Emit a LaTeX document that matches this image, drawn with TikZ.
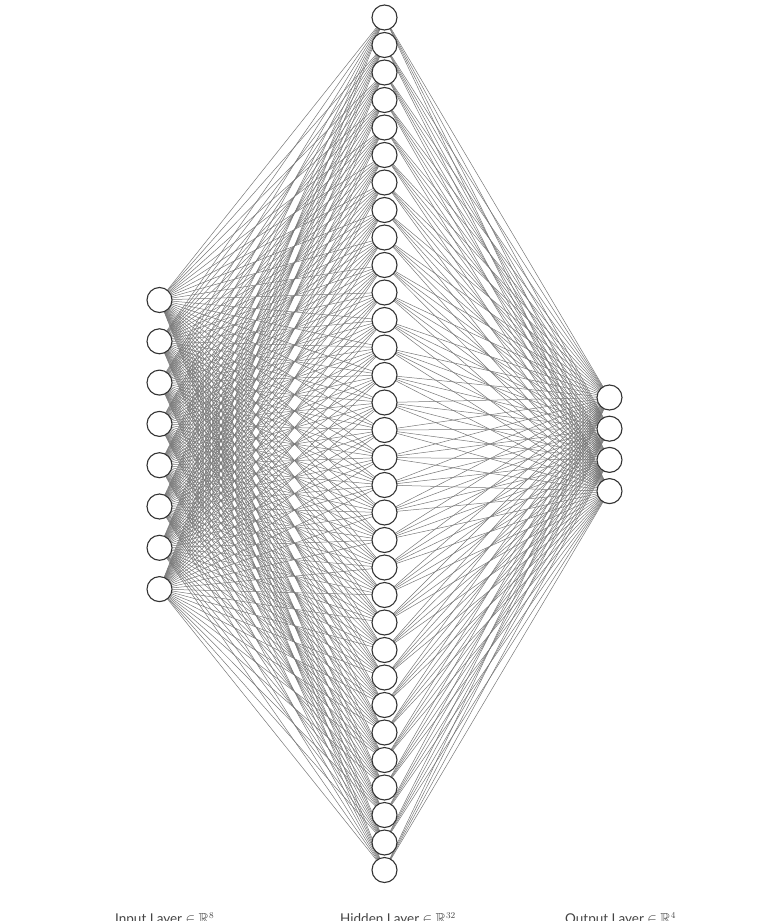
\documentclass[tikz,border=0pt]{standalone}
\usepackage{amssymb}
\usepackage{fontspec}
\setmainfont{Lato}
\usetikzlibrary{backgrounds}
\definecolor{edgegray}{HTML}{777777}
\definecolor{ringgray}{HTML}{333333}
\definecolor{textgray}{HTML}{444444}
\tikzset{
  neuron/.style={circle, draw=ringgray, fill=white, line width=1.1pt, minimum size=25pt, inner sep=0pt},
  edge/.style={draw=edgegray, line width=0.5pt},
  layerlabel/.style={anchor=base west, inner sep=0pt, text=textgray, font=\fontsize{13.5}{15}\selectfont}
}
\begin{document}
\begin{tikzpicture}[x=1pt,y=-1pt]
\useasboundingbox (0,0) rectangle (767,921);
\clip (0,0) rectangle (767,921);
\foreach \i in {1,...,8} \node[neuron] (I\i) at (159.5,{300+(\i-1)*41.3}) {};
\foreach \j in {1,...,32} \node[neuron] (H\j) at (384.5,{17.5+(\j-1)*27.5}) {};
\foreach \k in {1,...,4} \node[neuron] (O\k) at (609.5,{397.5+(\k-1)*31.2}) {};
\begin{pgfonlayer}{background}
\foreach \i in {1,...,8} \foreach \j in {1,...,32} \draw[edge] (I\i.center) -- (H\j.center);
\foreach \j in {1,...,32} \foreach \k in {1,...,4} \draw[edge] (H\j.center) -- (O\k.center);
\end{pgfonlayer}
\node[layerlabel] (L1) at (115,923.5) {Input Layer {\Large$\in$} {\Large$\mathbb{R}$}$^{8}$};
\node[layerlabel] (L2) at (340,923.5) {Hidden Layer {\Large$\in$} {\Large$\mathbb{R}$}$^{32}$};
\node[layerlabel] (L3) at (565,923.5) {Output Layer {\Large$\in$} {\Large$\mathbb{R}$}$^{4}$};
\end{tikzpicture}
\end{document}
